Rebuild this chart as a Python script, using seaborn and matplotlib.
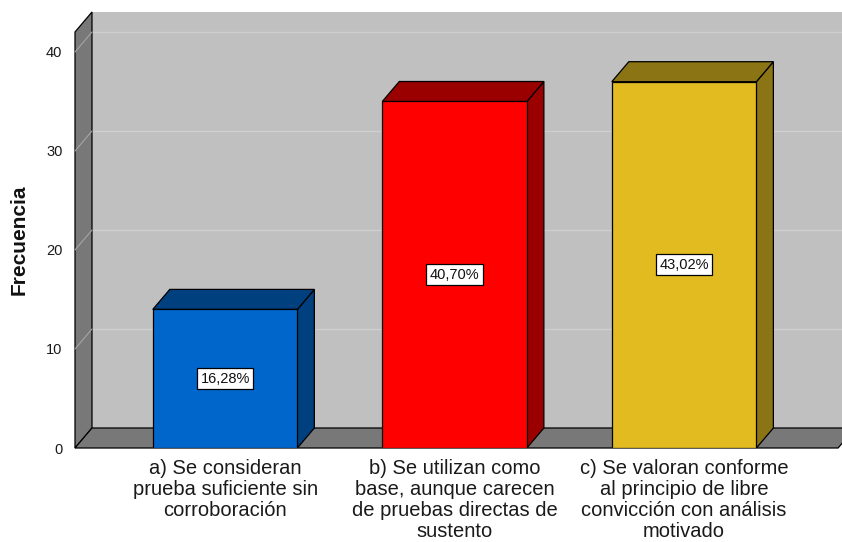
import matplotlib
matplotlib.use("Agg")
import matplotlib.pyplot as plt
import seaborn as sns
from matplotlib.patches import Polygon

# ---------------- data ----------------
categorias = [
    "a) Se consideran\nprueba suficiente sin\ncorroboración",
    "b) Se utilizan como\nbase, aunque carecen\nde pruebas directas de\nsustento",
    "c) Se valoran conforme\nal principio de libre\nconvicción con análisis\nmotivado",
]
frecuencias = [14, 35, 37]
porcentajes = ["16,28%", "40,70%", "43,02%"]

colores_frente = ["#0066CC", "#FF0000", "#E1BB20"]
colores_lado = ["#00407F", "#9B0000", "#8A7414"]

# ---------------- layout ----------------
sns.set_theme(style="white")
plt.rcParams["font.family"] = ["Liberation Sans", "DejaVu Sans"]

fig = plt.figure(figsize=(8.42, 5.42), dpi=100)
ax = fig.add_axes([75 / 842, 94 / 542, 767 / 842, 436 / 542])
ax.set_facecolor("none")

x_izq, x_der = -0.654, 2.688
y_top = 44.04
dx, dy = 0.074, 2.02          # profundidad 3D en unidades de datos
x_piso = 2.671
y_pared = y_top - dy

ax.set_xlim(x_izq, x_der)
ax.set_ylim(0, y_top)

gris_claro = "#C0C0C0"
gris_osc = "#787878"
lw = 0.9

# caras frontales con seaborn
sns.barplot(x=categorias, y=frecuencias, hue=categorias, palette=colores_frente,
            width=0.63, edgecolor="black", linewidth=lw, legend=False,
            saturation=1, ax=ax, zorder=3)
barras = [p for c in ax.containers for p in c]

# pared trasera
ax.add_patch(Polygon([(x_izq + dx, dy), (x_der + 1, dy), (x_der + 1, y_top),
                      (x_izq + dx, y_top)], closed=True, fc=gris_claro,
                     ec="none", zorder=0, clip_on=False))
# pared izquierda
ax.add_patch(Polygon([(x_izq, 0), (x_izq, y_pared), (x_izq + dx, y_top),
                      (x_izq + dx, dy)], closed=True, fc=gris_osc, ec="black",
                     lw=lw, zorder=1, clip_on=False))
# piso
ax.add_patch(Polygon([(x_izq, 0), (x_piso, 0), (x_piso + dx, dy),
                      (x_izq + dx, dy)], closed=True, fc=gris_osc, ec="black",
                     lw=lw, zorder=1, clip_on=False))

# lineas de cuadricula
for v in [10, 20, 30, 40]:
    ax.plot([x_izq + dx, x_der + 1], [v + dy, v + dy], color="#CFCFCF",
            lw=1, zorder=0.5, clip_on=False)
    ax.plot([x_izq, x_izq + dx], [v, v + dy], color="#A5A5A5",
            lw=0.8, zorder=1.5, clip_on=False)

for i, p in enumerate(barras):
    x0 = p.get_x()
    x1 = x0 + p.get_width()
    h = p.get_height()
    lado = Polygon([(x1, 0), (x1 + dx, dy), (x1 + dx, h + dy), (x1, h)],
                   closed=True, fc=colores_lado[i], ec="black", lw=lw, zorder=2.5)
    techo = Polygon([(x0, h), (x0 + dx, h + dy), (x1 + dx, h + dy), (x1, h)],
                    closed=True, fc=colores_lado[i], ec="black", lw=lw, zorder=2.5)
    ax.add_patch(lado)
    ax.add_patch(techo)
    ax.text(x0 + p.get_width() / 2, h / 2, porcentajes[i], ha="center",
            va="center", fontsize=10.5, color="#111111", zorder=5,
            bbox=dict(boxstyle="square,pad=0.25", fc="white", ec="black", lw=0.9))

ax.set_xlim(x_izq, x_der)
ax.set_ylim(0, y_top)
ax.set_yticks([0, 10, 20, 30, 40])
ax.tick_params(axis="y", length=0, pad=9, labelsize=10.5, colors="#1a1a1a")
ax.tick_params(axis="x", length=0, pad=8, labelsize=14.5, colors="#1a1a1a")
for t in ax.get_xticklabels():
    t.set_linespacing(1.12)
for s in ax.spines.values():
    s.set_visible(False)
ax.grid(False)
ax.set_ylabel("")
ax.set_xlabel("")

fig.text(19 / 842, 1 - 240 / 542, "Frecuencia", rotation=90, ha="center",
         va="center", fontsize=15, fontweight="bold", color="#111111")

fig.savefig("out.png", dpi=100)
